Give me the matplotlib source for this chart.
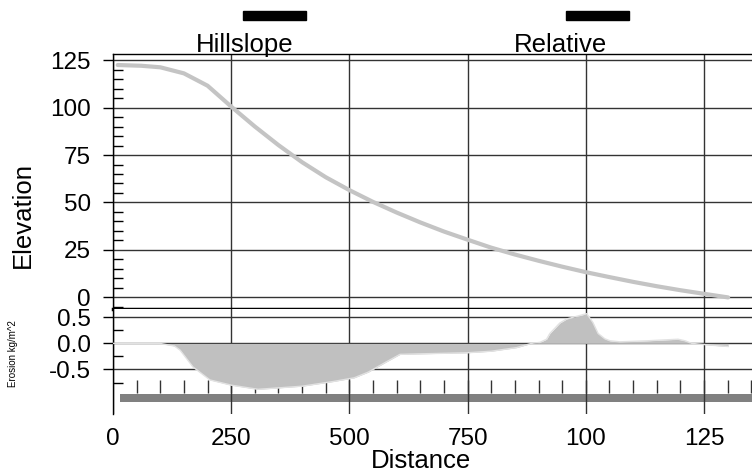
import matplotlib
matplotlib.use("Agg")
import matplotlib.pyplot as plt
from matplotlib.patches import Rectangle
from matplotlib.ticker import FixedLocator
import numpy as np

plt.rcParams['font.family'] = ['Liberation Sans', 'DejaVu Sans']
plt.rcParams['axes.unicode_minus'] = False

# hillslope profile
dist_elev = [10, 60, 100, 150, 200, 250, 300, 350, 400, 450, 500, 550, 600,
             650, 700, 750, 800, 850, 900, 950, 1000, 1050, 1100, 1150, 1200,
             1250, 1301]
elevation = [122.4, 122.0, 121.2, 118.0, 111.5, 100.5, 90.0, 80.2, 71.2, 63.3,
             56.5, 50.3, 44.7, 39.5, 34.7, 30.4, 26.2, 22.6, 19.3, 16.2, 13.3,
             10.7, 8.2, 5.9, 3.8, 1.9, 0.0]

# erosion / deposition along the slope
dist_eros = [0, 99, 130, 142, 169, 205, 250, 307, 400, 466, 510, 540, 575, 607,
             650, 748, 800, 854, 885, 903, 917, 924, 945, 960, 973, 1002, 1015,
             1026, 1040, 1051, 1072, 1130, 1195, 1210, 1224, 1260, 1301]
erosion = [0.0, 0.0, -0.05, -0.13, -0.45, -0.70, -0.80, -0.88, -0.82, -0.73,
           -0.66, -0.55, -0.37, -0.21, -0.20, -0.18, -0.15, -0.08, 0.0, 0.02,
           0.08, 0.19, 0.39, 0.47, 0.50, 0.57, 0.40, 0.19, 0.09, 0.05, 0.03,
           0.05, 0.08, 0.05, 0.0, -0.03, -0.06]

x_ticks = [0, 250, 500, 750, 1000, 1250]
x_labels = ['0', '250', '500', '750', '100', '125']
elev_ticks = [0, 25, 50, 75, 100, 125]
eros_ticks = [0.5, 0.0, -0.5]
eros_labels = ['0.5', '0.0', '-0.5']

W, H = 752, 475
fig = plt.figure(figsize=(W / 100, H / 100), dpi=100)
grid_col = '#333333'
fs = 18.5      # titles / axis labels
fs_tick = 17.5 # tick labels

def fax(x0, y0, x1, y1):
    return [x0 / W, 1 - y1 / H, (x1 - x0) / W, (y1 - y0) / H]

ax1 = fig.add_axes(fax(113, 54, 752, 309))
ax2 = fig.add_axes(fax(113, 309, 752, 414))

# upper panel
ax1.plot(dist_elev, elevation, color='#c4c4c4', lw=3, solid_capstyle='round', zorder=3)
ax1.set_xlim(0, 1351.5)
ax1.set_ylim(-6.1, 128.2)
ax1.set_yticks(elev_ticks)
ax1.set_yticklabels([str(t) for t in elev_ticks], fontsize=fs_tick)
ax1.yaxis.set_minor_locator(FixedLocator(np.arange(-5, 126, 5)))
ax1.set_xticks(x_ticks)
ax1.tick_params(axis='x', length=0, labelbottom=False)
ax1.tick_params(axis='y', which='major', direction='out', length=7, width=1, pad=9)
ax1.tick_params(axis='y', which='minor', direction='in', length=7, width=1)
ax1.grid(True, color=grid_col, lw=1)
ax1.spines['right'].set_visible(False)
ax1.spines['bottom'].set_linewidth(2.5)
ax1.spines['top'].set_linewidth(1)
ax1.spines['left'].set_linewidth(1)

# lower panel
ax2.fill_between(dist_eros, erosion, 0, color='#c0c0c0', lw=0, zorder=3)
ax2.plot(dist_eros, erosion, color='#e2e2e2', lw=1, zorder=3)
ax2.set_xlim(0, 1351.5)
ax2.set_ylim(-1.353, 0.659)
ax2.set_yticks(eros_ticks)
ax2.set_yticklabels(eros_labels, fontsize=fs_tick)
ax2.yaxis.set_minor_locator(FixedLocator([0.25, -0.25, -0.75]))
ax2.set_xticks(x_ticks)
ax2.set_xticklabels(x_labels, fontsize=fs_tick)
ax2.tick_params(axis='x', length=0, pad=10)
ax2.tick_params(axis='y', which='major', direction='out', length=7, width=1, pad=9)
ax2.tick_params(axis='y', which='minor', direction='in', length=7, width=1)
ax2.grid(True, color=grid_col, lw=1)
for s in ['top', 'right', 'bottom']:
    ax2.spines[s].set_visible(False)
ax2.spines['left'].set_linewidth(1)

# distance ticks along the base and the bedrock band
minor_x = np.arange(50, 1351, 50)
ax2.vlines(minor_x, -0.945, -0.70, color=grid_col, lw=1, zorder=2)
ax2.axhspan(-1.117, -0.975, xmin=7 / 639, xmax=1, color='#808080', lw=0, zorder=1)

# header
for x0 in (243, 566):
    fig.patches.append(Rectangle((x0 / W, 1 - 20 / H), 63 / W, 9 / H,
                                 transform=fig.transFigure, color='black'))
fig.text(245 / W, 1 - 52 / H, 'Hillslope', ha='center', va='baseline', fontsize=fs)
fig.text(561 / W, 1 - 52 / H, 'Relative', ha='center', va='baseline', fontsize=fs)

fig.text(23 / W, 1 - 215 / H, 'Elevation', rotation=90, ha='center', va='center', fontsize=fs)
fig.text(13 / W, 1 - 354 / H, 'Erosion kg/m^2', rotation=90, ha='center', va='center', fontsize=7)
fig.text(421 / W, 1 - 461 / H, 'Distance', ha='center', va='center', fontsize=fs)

fig.savefig('out.png', dpi=100)
